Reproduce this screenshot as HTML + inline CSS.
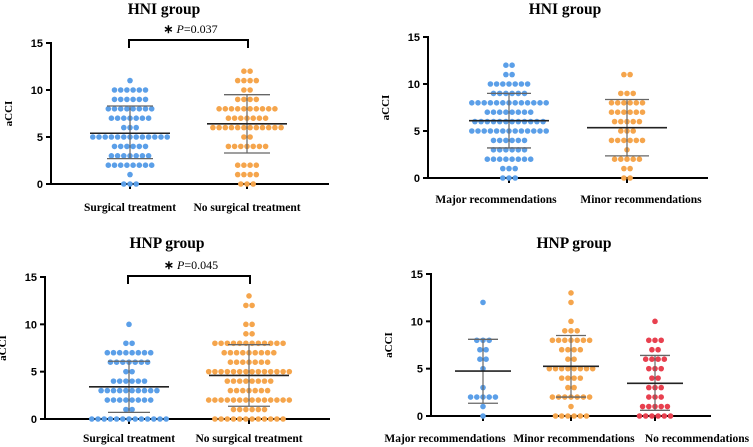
<!DOCTYPE html>
<html><head><meta charset="utf-8">
<style>
html,body{margin:0;padding:0;background:#fff;}
svg{display:block;}
.t{font-family:"Liberation Serif",serif;font-weight:bold;}
.n{font-family:"Liberation Sans",sans-serif;font-weight:bold;font-size:11px;}
</style></head>
<body>
<svg id="chart" width="753" height="447" viewBox="0 0 753 447" xmlns="http://www.w3.org/2000/svg"></svg>
<script>
// ---- data (counts indexed by aCCI value 0..13) ----
const catsA = ["Surgical treatment","No surgical treatment"];
const countsA1 = [3,1,8,7,6,13,3,7,8,6,6,1,0,0];
const countsA2 = [3,4,4,0,7,2,12,7,10,4,2,4,2,0];
const meansA = [5.4,6.4];
const sdLoA = [2.7,3.3];
const sdHiA = [8.3,9.5];

const catsB = ["Major recommendations","Minor recommendations"];
const countsB1 = [3,3,8,6,6,13,12,8,13,6,7,2,2,0];
const countsB2 = [2,2,5,1,6,3,5,6,6,3,0,2,0,0];
const meansB = [6.1,5.35];
const sdLoB = [3.2,2.35];
const sdHiB = [9.0,8.35];

const catsC = ["Surgical treatment","No surgical treatment"];
const countsC1 = [13,2,8,10,6,2,7,8,2,0,1,0,0,0];
const countsC2 = [12,6,14,7,8,14,7,9,12,2,2,0,2,1];
const meansC = [3.4,4.6];
const sdLoC = [0.7,1.35];
const sdHiC = [6.1,7.85];

const catsD = ["Major recommendations","Minor recommendations","No recommendations"];
const countsD1 = [1,1,5,1,0,1,2,2,3,0,0,0,1,0];
const countsD2 = [6,1,7,2,4,8,2,4,7,3,1,0,1,1];
const countsD3 = [6,5,3,3,2,3,4,2,3,0,1,0,0,0];
const meansD = [4.75,5.25,3.45];
const sdLoD = [1.35,2.0,0.6];
const sdHiD = [8.1,8.5,6.4];

const yTicks = [0,5,10,15];
const colors = ["#5b9fe8","#f5a54c","#e8404f"];

const svg = document.getElementById('chart');
const NS = "http://www.w3.org/2000/svg";
function mk(tag, attrs, parent){
  const e = document.createElementNS(NS, tag);
  for (const k in attrs) e.setAttribute(k, attrs[k]);
  (parent||svg).appendChild(e);
  return e;
}

function panel(p){
  const g = mk('g', {});
  
  
  const y = v => p.y0 - (p.y0 - p.y15) * v / 15;
  const x = i => p.cx[i];
  const tt = mk('text', {x:p.titleX, y:p.titleY, 'text-anchor':'middle', class:'t', 'font-size':'15.5'}, g);
  tt.textContent = p.title;
  
  
  const yl = mk('text', {x:0, y:0, 'text-anchor':'middle', class:'t', 'font-size':'11',
    transform:`translate(${p.ax-39},${(p.y0+p.y15)/2}) rotate(-90)`}, g);
  yl.textContent = 'aCCI';
  
  
  const ya = mk('line', {x1:p.ax, y1:p.y15-1, x2:p.ax, y2:p.y0+1, stroke:'#000', 'stroke-width':2}, g);
  
  
  const xa = mk('line', {x1:p.ax-1, y1:p.y0, x2:p.axEnd, y2:p.y0, stroke:'#000', 'stroke-width':2}, g);
  
  
  yTicks.forEach(v => {
    mk('line', {x1:p.ax-5, y1:y(v), x2:p.ax, y2:y(v), stroke:'#000', 'stroke-width':2}, g);
    const tl = mk('text', {x:p.ax-8, y:y(v)+4, 'text-anchor':'end', class:'n'}, g);
    tl.textContent = v;
    
    
  });
  p.cats.forEach((c, i) => {
    mk('line', {x1:x(i), y1:p.y0, x2:x(i), y2:p.y0+5, stroke:'#000', 'stroke-width':2}, g);
    const lx = p.labelX ? p.labelX[i] : x(i);
    const cl = mk('text', {x:lx, y:p.labelY, 'text-anchor':'middle', class:'t', 'font-size':'11.5'}, g);
    cl.textContent = c;
    
    
  });
  p.counts.forEach((arr, i) => {
    arr.forEach((n, v) => {
      for (let k = 0; k < n; k++) {
        const cxp = x(i) + (k - (n - 1) / 2) * 6.2;
        const d = mk('circle', {cx:cxp, cy:y(v), r:2.8, fill:colors[i]}, g);
        
        
      }
    });
    const sd = mk('line', {x1:x(i), y1:y(p.sdHi[i]), x2:x(i), y2:y(p.sdLo[i]), stroke:'#666', 'stroke-width':1.2}, g);
    
    
    [p.sdHi[i], p.sdLo[i]].forEach(v => {
      const c = mk('line', {x1:x(i)-p.sdW, y1:y(v), x2:x(i)+p.sdW, y2:y(v), stroke:'#666', 'stroke-width':1.3}, g);
      
      
    });
    const m = mk('line', {x1:x(i)-p.mW, y1:y(p.means[i]), x2:x(i)+p.mW, y2:y(p.means[i]), stroke:'#222', 'stroke-width':1.6}, g);
    
    
  });
  if (p.pval) {
    const by = p.bracketY;
    const br = mk('path', {d:`M${x(0)-1},${by+8} V${by} H${x(1)+1} V${by+8}`, fill:'none', stroke:'#000', 'stroke-width':2}, g);
    
    
    const pt = mk('text', {x:(x(0)+x(1))/2+2, y:by-7, 'text-anchor':'middle', 'font-family':'Liberation Serif, serif', 'font-size':'12'}, g);
    pt.innerHTML = '<tspan font-weight="bold">∗</tspan> <tspan font-style="italic">P</tspan>=' + p.pval;
    
    
  }
}

panel({name:'hni-treatment-panel', title:'HNI group', titleX:164, titleY:14, cats:catsA, counts:[countsA1,countsA2],
  means:meansA, sdLo:sdLoA, sdHi:sdHiA, ax:51, axEnd:329, y0:184, y15:43, cx:[130,247], labelY:211,
  sdW:23, mW:40, pval:'0.037', bracketY:40});
panel({name:'hni-recommendation-panel', title:'HNI group', titleX:565, titleY:14, cats:catsB, counts:[countsB1,countsB2],
  means:meansB, sdLo:sdLoB, sdHi:sdHiB, ax:428, axEnd:708, y0:178, y15:37, cx:[509,627], labelY:203,
  labelX:[496,641], sdW:22, mW:40});
panel({name:'hnp-treatment-panel', title:'HNP group', titleX:167, titleY:248, cats:catsC, counts:[countsC1,countsC2],
  means:meansC, sdLo:sdLoC, sdHi:sdHiC, ax:45, axEnd:330, y0:419, y15:277, cx:[129,249], labelY:442,
  sdW:21, mW:40, pval:'0.045', bracketY:276});
panel({name:'hnp-recommendation-panel', title:'HNP group', titleX:574, titleY:248, cats:catsD, counts:[countsD1,countsD2,countsD3],
  means:meansD, sdLo:sdLoD, sdHi:sdHiD, ax:431, axEnd:711, y0:416, y15:274, cx:[483,571,655], labelY:442,
  labelX:[445,574,697], sdW:15, mW:28});
</script>
</body></html>
